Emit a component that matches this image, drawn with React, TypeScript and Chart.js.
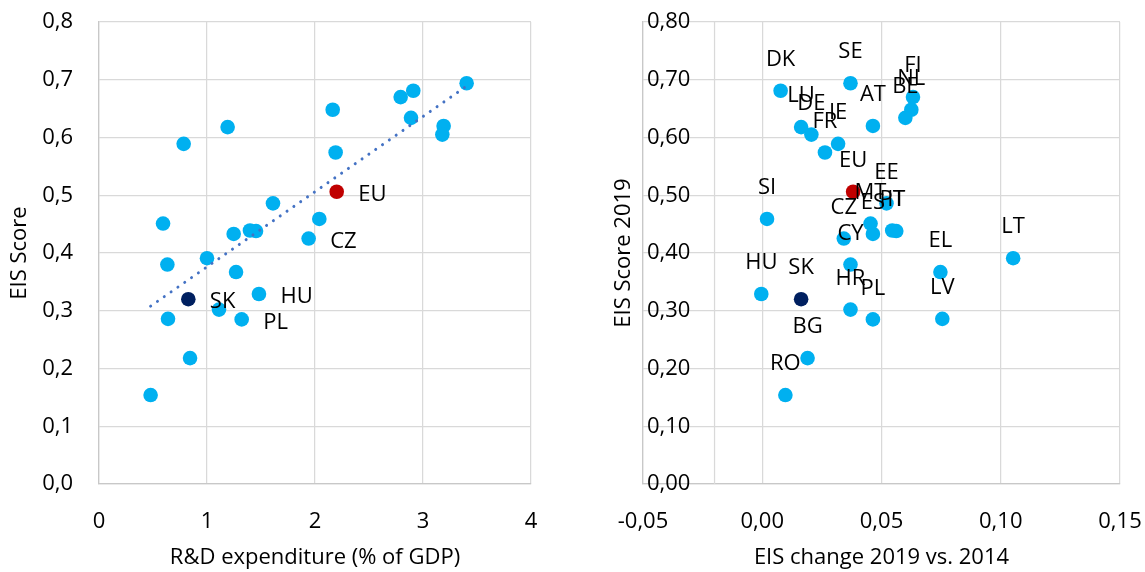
import React, { useEffect, useRef } from 'react';
import { Chart, registerables } from 'chart.js';

Chart.register(...registerables);

// ---- Data ----
const countries = ['SE', 'DK', 'FI', 'NL', 'BE', 'AT', 'DE', 'LU', 'IE', 'FR', 'EU', 'EE', 'SI', 'MT', 'ES', 'IT', 'PT', 'CZ', 'CY', 'LT', 'EL', 'HU', 'SK', 'HR', 'LV', 'PL', 'BG', 'RO'];
const rdExpenditure = [3.404, 2.91, 2.793, 2.164, 2.889, 3.191, 3.179, 1.191, 0.784, 2.191, 2.201, 1.611, 2.04, 0.593, 1.247, 1.454, 1.398, 1.941, 0.633, 1.0, 1.269, 1.481, 0.827, 1.111, 0.639, 1.321, 0.843, 0.478];
const eisScore2019 = [0.694, 0.681, 0.67, 0.648, 0.634, 0.62, 0.605, 0.618, 0.589, 0.574, 0.506, 0.486, 0.459, 0.451, 0.433, 0.438, 0.439, 0.425, 0.38, 0.391, 0.367, 0.329, 0.32, 0.302, 0.286, 0.285, 0.218, 0.154];
const eisChange = [0.037, 0.0077, 0.0632, 0.0625, 0.06, 0.0464, 0.0206, 0.0163, 0.0318, 0.0263, 0.0381, 0.0521, 0.002, 0.0454, 0.0464, 0.0562, 0.0545, 0.0342, 0.037, 0.1052, 0.0747, -0.0004, 0.0163, 0.037, 0.0755, 0.0464, 0.019, 0.0097];

const trendX = [0.478, 3.404];
const trendY = [0.308, 0.689];

const leftLabelled = ['EU', 'CZ', 'SK', 'HU', 'PL'];

const leftXTicks = { min: 0, max: 4, step: 1 };
const leftYTicks = { min: 0, max: 0.8, step: 0.1 };
const rightXTicks = { min: -0.05, max: 0.15, step: 0.05 };
const rightYTicks = { min: 0, max: 0.8, step: 0.1 };
const yAxisCrossesAt = -0.02;

const leftXTitle = 'R&D expenditure (% of GDP)';
const leftYTitle = 'EIS Score';
const rightXTitle = 'EIS change 2019 vs. 2014';
const rightYTitle = 'EIS Score 2019';

// ---- Styles ----
const FONT = { family: "'Open Sans', sans-serif", size: 22 };
const TEXT = '#000000';
const GRID = '#D9D9D9';
const AXIS = '#C8C8C8';
const BLUE = '#00B0F0';
const RED = '#C00000';
const NAVY = '#002060';
const CLEAR = 'rgba(0,0,0,0)';

const pointColor = (c: string) => (c === 'EU' ? RED : c === 'SK' ? NAVY : BLUE);
const comma = (v: number, d: number) => Number(v).toFixed(d).replace('.', ',');

const labelPlugin = (mode: 'right' | 'above', datasetIndex: number) => ({
  id: 'pointLabels' + mode,
  afterDatasetsDraw(chart: any) {
    const meta = chart.getDatasetMeta(datasetIndex);
    const ctx = chart.ctx;
    ctx.save();
    ctx.font = `${FONT.size}px ${FONT.family}`;
    ctx.fillStyle = TEXT;
    ctx.textBaseline = 'middle';
    meta.data.forEach((pt: any, i: number) => {
      const c = countries[i];
      if (mode === 'right') {
        if (!leftLabelled.includes(c)) return;
        ctx.textAlign = 'left';
        ctx.fillText(c, pt.x + 21.5, pt.y + 3);
      } else {
        ctx.textAlign = 'center';
        ctx.fillText(c, pt.x, pt.y - 31);
      }
    });
    ctx.restore();
  },
});

const crossLinePlugin = {
  id: 'crossLine',
  beforeDatasetsDraw(chart: any) {
    const { ctx, chartArea, scales } = chart;
    const x = scales.x.getPixelForValue(yAxisCrossesAt);
    ctx.save();
    ctx.strokeStyle = GRID;
    ctx.lineWidth = 1.25;
    ctx.beginPath();
    ctx.moveTo(x, chartArea.top);
    ctx.lineTo(x, chartArea.bottom);
    ctx.stroke();
    ctx.restore();
  },
};

// tick gap realised through an invisible tick mark (keeps Chart.js from adding it to edge padding)
const gridWithGap = (gap: number) => ({ color: GRID, lineWidth: 1.25, drawTicks: true, tickLength: gap, tickColor: CLEAR });
const gridNoTicks = { color: GRID, lineWidth: 1.25, drawTicks: false };
const borderOpts = { color: AXIS, width: 1.25 };

export default function App() {
  const leftRef = useRef<HTMLCanvasElement>(null);
  const rightRef = useRef<HTMLCanvasElement>(null);

  useEffect(() => {
    const colors = countries.map(pointColor);

    const left = new Chart(leftRef.current as HTMLCanvasElement, {
      type: 'scatter',
      data: {
        datasets: [
          {
            label: 'trend',
            data: trendX.map((x, i) => ({ x, y: trendY[i] })),
            showLine: true,
            borderColor: '#4472C4',
            borderWidth: 3,
            borderDash: [0.01, 8.3],
            borderCapStyle: 'round',
            pointRadius: 0,
            fill: false,
          } as any,
          {
            label: 'countries',
            data: countries.map((c, i) => ({ x: rdExpenditure[i], y: eisScore2019[i] })),
            pointBackgroundColor: colors,
            pointBorderWidth: 0,
            pointRadius: 7.3,
            pointHoverRadius: 7.3,
          } as any,
        ],
      },
      options: {
        responsive: false,
        animation: false,
        events: [],
        layout: { padding: { left: 0, right: 41, top: 22, bottom: 0 } },
        plugins: { legend: { display: false }, tooltip: { enabled: false } },
        scales: {
          x: {
            type: 'linear',
            min: leftXTicks.min,
            max: leftXTicks.max,
            ticks: { stepSize: leftXTicks.step, padding: 0, font: FONT, color: TEXT, callback: (v: any) => String(v) },
            grid: gridWithGap(24.5),
            border: borderOpts,
            title: { display: true, text: leftXTitle, font: FONT, color: TEXT, padding: { top: 0, bottom: 1 } },
            afterFit: (s: any) => { s.height = 88; },
          },
          y: {
            type: 'linear',
            min: leftYTicks.min,
            max: leftYTicks.max,
            ticks: { stepSize: leftYTicks.step, padding: 0, font: FONT, color: TEXT, callback: (v: any) => comma(v, 1) },
            grid: gridWithGap(26),
            border: borderOpts,
            title: { display: true, text: leftYTitle, font: FONT, color: TEXT, padding: { top: 7, bottom: 0 } },
            afterFit: (s: any) => { s.width = 99; },
          },
        },
      } as any,
      plugins: [labelPlugin('right', 1)],
    });

    const right = new Chart(rightRef.current as HTMLCanvasElement, {
      type: 'scatter',
      data: {
        datasets: [
          {
            label: 'countries',
            data: countries.map((c, i) => ({ x: eisChange[i], y: eisScore2019[i] })),
            pointBackgroundColor: colors,
            pointBorderWidth: 0,
            pointRadius: 7.3,
            pointHoverRadius: 7.3,
          } as any,
        ],
      },
      options: {
        responsive: false,
        animation: false,
        events: [],
        layout: { padding: { left: 0, right: 25, top: 22, bottom: 0 } },
        plugins: { legend: { display: false }, tooltip: { enabled: false } },
        scales: {
          x: {
            type: 'linear',
            min: rightXTicks.min,
            max: rightXTicks.max,
            ticks: { stepSize: rightXTicks.step, padding: 0, font: FONT, color: TEXT, callback: (v: any) => comma(v, 2) },
            grid: gridWithGap(24.5),
            border: borderOpts,
            title: { display: true, text: rightXTitle, font: FONT, color: TEXT, padding: { top: 0, bottom: 1 } },
            afterFit: (s: any) => { s.height = 88; },
          },
          y: {
            type: 'linear',
            min: rightYTicks.min,
            max: rightYTicks.max,
            ticks: { stepSize: rightYTicks.step, mirror: true, padding: 4, font: FONT, color: TEXT, callback: (v: any) => comma(v, 2) },
            grid: gridNoTicks,
            border: borderOpts,
            title: { display: true, text: rightYTitle, font: FONT, color: TEXT, padding: { top: 39, bottom: 0 } },
            afterFit: (s: any) => { s.width = 71; },
          },
        },
      } as any,
      plugins: [crossLinePlugin, labelPlugin('above', 0)],
    });

    return () => {
      left.destroy();
      right.destroy();
    };
  }, []);

  return (
    <div style={{ position: 'fixed', left: 0, top: 0, width: 1145, height: 572, background: '#ffffff' }}>
      <canvas ref={leftRef} width={572} height={572} style={{ position: 'absolute', left: 0, top: 0, display: 'block' }} />
      <canvas ref={rightRef} width={573} height={572} style={{ position: 'absolute', left: 572, top: 0, display: 'block' }} />
    </div>
  );
}
